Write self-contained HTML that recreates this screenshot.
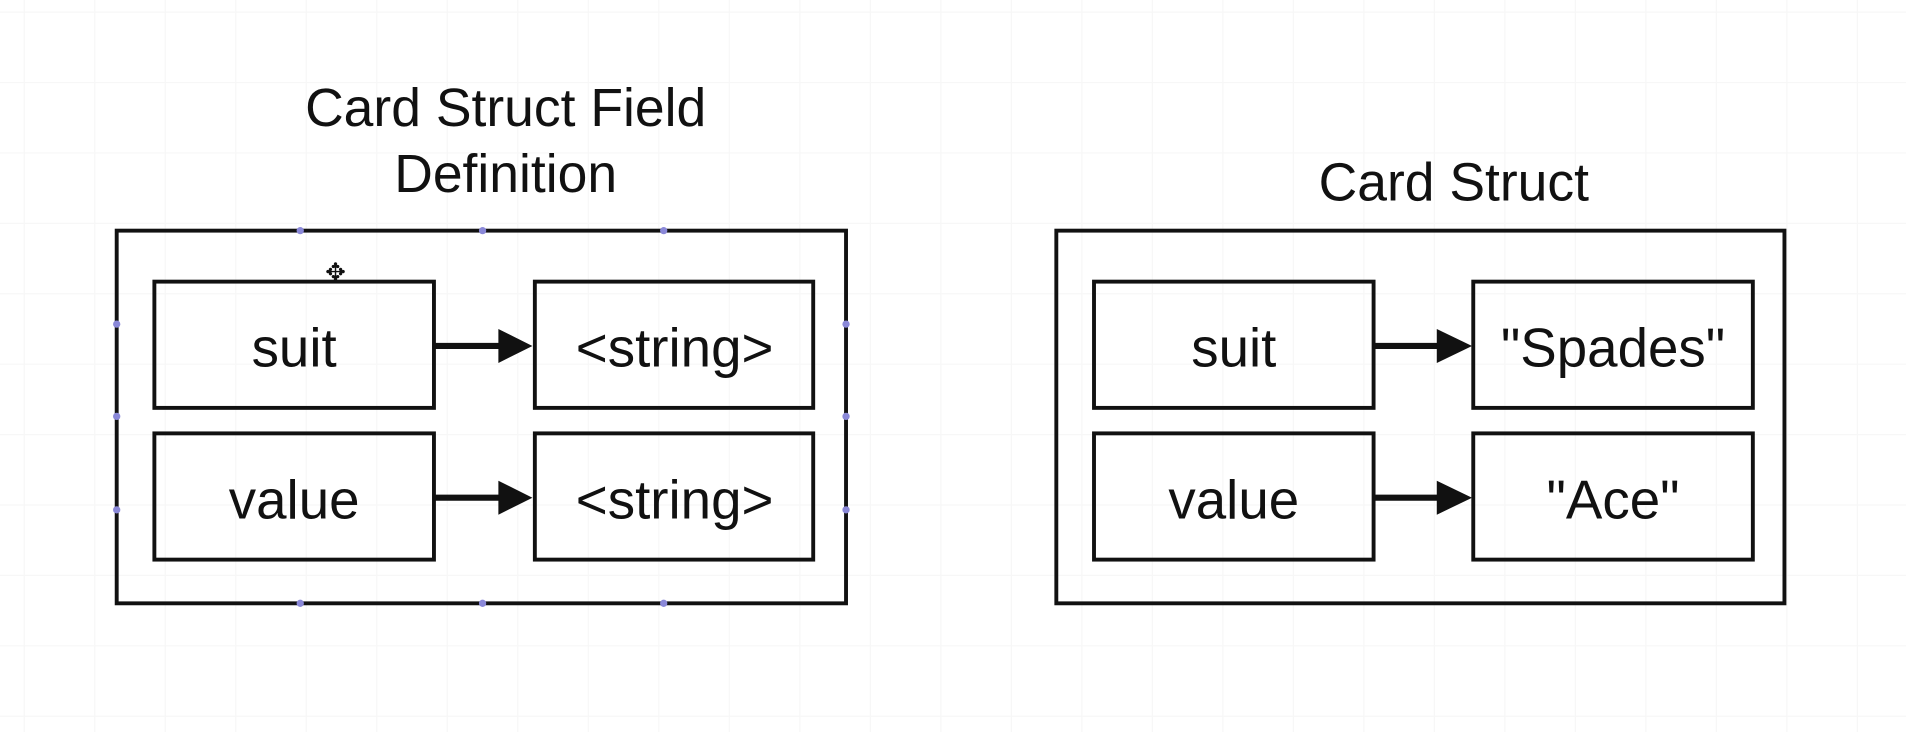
<!DOCTYPE html>
<html><head><meta charset="utf-8"><style>
html,body{margin:0;padding:0;background:#fff;}
svg{display:block;}
text{font-family:"Liberation Sans",sans-serif;fill:#111;}
</style></head><body>
<svg width="1906" height="732" viewBox="0 0 1568 603" preserveAspectRatio="none" xmlns="http://www.w3.org/2000/svg">
<rect width="1568" height="603" fill="#fff"/>
<g stroke="#f7f7f7" stroke-width="1" id="grid"></g>

<text x="416" y="104" font-size="44" text-anchor="middle">Card Struct Field</text>
<text x="416" y="158" font-size="44" text-anchor="middle">Definition</text>
<text x="1196" y="165" font-size="44" text-anchor="middle">Card Struct</text>

<g fill="none" stroke="#111" stroke-width="3.2">
<rect x="96" y="190" width="600" height="307"/>
<rect x="127" y="232" width="230" height="104"/>
<rect x="440" y="232" width="229" height="104"/>
<rect x="127" y="357" width="230" height="104"/>
<rect x="440" y="357" width="229" height="104"/>
<rect x="869" y="190" width="599" height="307"/>
<rect x="900" y="232" width="230" height="104"/>
<rect x="1212" y="232" width="230" height="104"/>
<rect x="900" y="357" width="230" height="104"/>
<rect x="1212" y="357" width="230" height="104"/>
</g>

<g stroke="#111" stroke-width="5" fill="#111">
<g><line x1="357" y1="285" x2="420" y2="285"/><polygon points="410,271 438,285 410,299" stroke="none"/></g>
<g><line x1="357" y1="410" x2="420" y2="410"/><polygon points="410,396 438,410 410,424" stroke="none"/></g>
<g><line x1="1130" y1="285" x2="1192" y2="285"/><polygon points="1182,271 1211,285 1182,299" stroke="none"/></g>
<g><line x1="1130" y1="410" x2="1192" y2="410"/><polygon points="1182,396 1211,410 1182,424" stroke="none"/></g>
</g>

<g font-size="45" text-anchor="middle">
<text x="242" y="302">suit</text>
<text x="555" y="302">&lt;string&gt;</text>
<text x="242" y="427">value</text>
<text x="555" y="427">&lt;string&gt;</text>
<text x="1015" y="302">suit</text>
<text x="1327" y="302">"Spades"</text>
<text x="1015" y="427">value</text>
<text x="1327" y="427">"Ace"</text>
</g>

<g fill="#8a88d8">
<circle cx="247" cy="190" r="3"/><circle cx="397" cy="190" r="3"/><circle cx="546" cy="190" r="3"/>
<circle cx="247" cy="497" r="3"/><circle cx="397" cy="497" r="3"/><circle cx="546" cy="497" r="3"/>
<circle cx="96" cy="267" r="3"/><circle cx="96" cy="343" r="3"/><circle cx="96" cy="420" r="3"/>
<circle cx="696" cy="267" r="3"/><circle cx="696" cy="343" r="3"/><circle cx="696" cy="420" r="3"/>
</g>
<text x="276" y="231" font-size="20" text-anchor="middle">✥</text>
</svg>
<script>
var g=document.getElementById('grid');
for(var x=20;x<1568;x+=58){var l=document.createElementNS('http://www.w3.org/2000/svg','line');l.setAttribute('x1',x);l.setAttribute('x2',x);l.setAttribute('y1',0);l.setAttribute('y2',603);


g.appendChild(l);}
for(var y=10;y<603;y+=58){var l2=document.createElementNS('http://www.w3.org/2000/svg','line');l2.setAttribute('y1',y);l2.setAttribute('y2',y);l2.setAttribute('x1',0);l2.setAttribute('x2',1568);


g.appendChild(l2);}
</script>
</body></html>
